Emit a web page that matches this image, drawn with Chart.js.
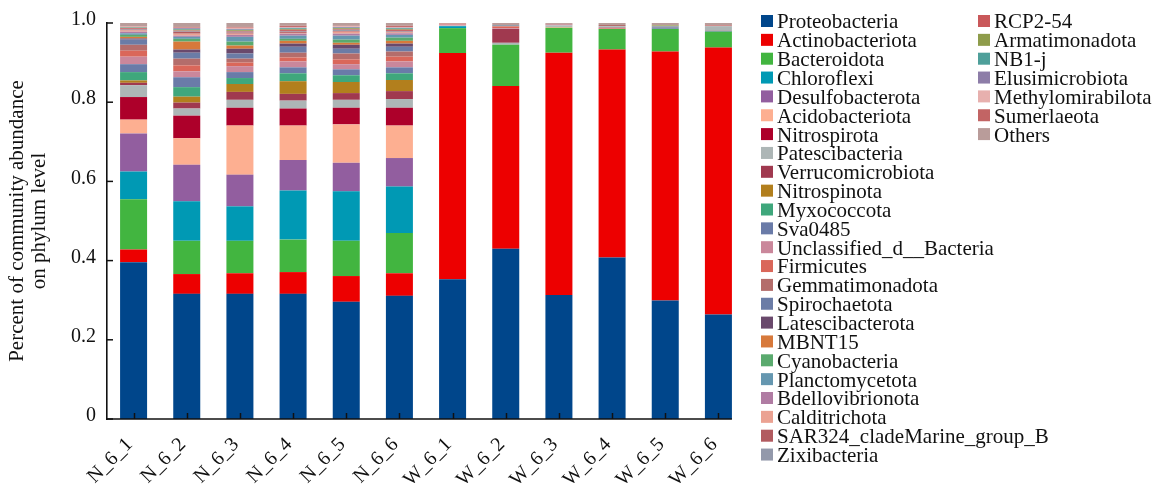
<!DOCTYPE html>
<html>
<head>
<meta charset="utf-8">
<script src="https://cdn.jsdelivr.net/npm/chart.js@4.4.1/dist/chart.umd.min.js"></script>
<style>
  html, body { margin: 0; padding: 0; background: #fff; }
  canvas { display: block; }
</style>
</head>
<body>
<canvas id="chart" width="1160" height="484"></canvas>
<script>
// Samples along the x axis
const samples = ['N_6_1', 'N_6_2', 'N_6_3', 'N_6_4', 'N_6_5', 'N_6_6',
                 'W_6_1', 'W_6_2', 'W_6_3', 'W_6_4', 'W_6_5', 'W_6_6'];

// Phyla, stacked bottom to top in this order
const phyla = ['Proteobacteria', 'Actinobacteriota', 'Bacteroidota', 'Chloroflexi',
  'Desulfobacterota', 'Acidobacteriota', 'Nitrospirota', 'Patescibacteria',
  'Verrucomicrobiota', 'Nitrospinota', 'Myxococcota', 'Sva0485',
  'Unclassified_d__Bacteria', 'Firmicutes', 'Gemmatimonadota', 'Spirochaetota',
  'Latescibacterota', 'MBNT15', 'Cyanobacteria', 'Planctomycetota',
  'Bdellovibrionota', 'Calditrichota', 'SAR324_cladeMarine_group_B', 'Zixibacteria',
  'RCP2-54', 'Armatimonadota', 'NB1-j', 'Elusimicrobiota',
  'Methylomirabilota', 'Sumerlaeota', 'Others'];

// Relative abundance per phylum (one value per sample, same order as samples)
const proteobacteria    = [0.396, 0.316, 0.316, 0.316, 0.296, 0.311, 0.353, 0.430, 0.313, 0.408, 0.299, 0.264];
const actinobacteriota  = [0.032, 0.050, 0.052, 0.055, 0.065, 0.057, 0.571, 0.411, 0.612, 0.525, 0.629, 0.674];
const bacteroidota      = [0.127, 0.084, 0.082, 0.082, 0.089, 0.102, 0.063, 0.104, 0.063, 0.052, 0.057, 0.040];
const chloroflexi       = [0.070, 0.100, 0.087, 0.124, 0.125, 0.117, 0.005, 0, 0, 0, 0, 0.001];
const desulfobacterota  = [0.096, 0.092, 0.080, 0.077, 0.072, 0.072, 0.001, 0, 0, 0, 0, 0];
const acidobacteriota   = [0.035, 0.067, 0.124, 0.087, 0.097, 0.082, 0.001, 0, 0.002, 0.001, 0, 0];
const nitrospirota      = [0.057, 0.057, 0.045, 0.043, 0.042, 0.045, 0, 0, 0, 0.002, 0, 0.001];
const patescibacteria   = [0.030, 0.018, 0.020, 0.020, 0.020, 0.022, 0.001, 0.005, 0.004, 0.004, 0, 0.012];
const verrucomicrobiota = [0.006, 0.015, 0.020, 0.017, 0.017, 0.020, 0, 0.035, 0, 0, 0, 0];
const nitrospinota      = [0.006, 0.015, 0.020, 0.032, 0.028, 0.028, 0, 0, 0, 0, 0, 0];
const myxococcota       = [0.021, 0.024, 0.015, 0.020, 0.017, 0.017, 0, 0, 0, 0, 0, 0];
const sva0485           = [0.020, 0.025, 0.015, 0.015, 0.015, 0.015, 0, 0, 0, 0, 0.002, 0];
const unclassifiedBact  = [0.019, 0.015, 0.015, 0.015, 0.013, 0.015, 0.001, 0.002, 0.002, 0, 0, 0];
const firmicutes        = [0.015, 0.015, 0.009, 0.010, 0.012, 0.012, 0.002, 0.004, 0, 0, 0, 0];
const gemmatimonadota   = [0.015, 0.017, 0.010, 0.012, 0.015, 0.013, 0.001, 0.002, 0.002, 0.003, 0, 0];
const spirochaetota     = [0.013, 0.015, 0.013, 0.015, 0.012, 0.012, 0, 0, 0, 0, 0, 0];
const latescibacterota  = [0.003, 0.008, 0.012, 0.008, 0.010, 0.008, 0, 0, 0, 0, 0, 0];
const mbnt15            = [0.004, 0.020, 0.008, 0.007, 0.005, 0.007, 0, 0, 0, 0, 0, 0];
const cyanobacteria     = [0.005, 0.007, 0.010, 0.005, 0.008, 0.008, 0, 0, 0, 0, 0, 0];
const planctomycetota   = [0.004, 0.005, 0.012, 0.008, 0.010, 0.007, 0, 0.002, 0, 0, 0, 0];
const bdellovibrionota  = [0.004, 0.003, 0.005, 0.005, 0.005, 0.004, 0, 0, 0, 0, 0, 0];
const calditrichota     = [0.003, 0.005, 0.003, 0.002, 0.005, 0.002, 0, 0, 0, 0, 0, 0];
const sar324            = [0.002, 0.005, 0.003, 0.003, 0.002, 0.002, 0, 0, 0, 0, 0, 0];
const zixibacteria      = [0.002, 0.002, 0.002, 0.002, 0.003, 0.002, 0, 0, 0, 0, 0.005, 0];
const rcp2_54           = [0.002, 0.001, 0.002, 0.003, 0.002, 0.003, 0, 0, 0, 0, 0, 0];
const armatimonadota    = [0.001, 0.002, 0.002, 0.002, 0.002, 0.002, 0, 0, 0, 0, 0.002, 0];
const nb1_j             = [0.001, 0.002, 0.001, 0.002, 0.001, 0.002, 0, 0, 0, 0, 0, 0];
const elusimicrobiota   = [0.001, 0.002, 0.002, 0.001, 0.002, 0.001, 0, 0, 0, 0, 0, 0];
const methylomirabilota = [0.001, 0.001, 0.003, 0.002, 0.002, 0.002, 0, 0, 0, 0, 0, 0];
const sumerlaeota       = [0.001, 0.002, 0.002, 0.003, 0.001, 0.003, 0, 0, 0, 0, 0, 0.002];
const others            = [0.008, 0.010, 0.010, 0.007, 0.007, 0.007, 0.001, 0.005, 0.002, 0.005, 0.006, 0.006];

const series = [proteobacteria, actinobacteriota, bacteroidota, chloroflexi,
  desulfobacterota, acidobacteriota, nitrospirota, patescibacteria,
  verrucomicrobiota, nitrospinota, myxococcota, sva0485,
  unclassifiedBact, firmicutes, gemmatimonadota, spirochaetota,
  latescibacterota, mbnt15, cyanobacteria, planctomycetota,
  bdellovibrionota, calditrichota, sar324, zixibacteria,
  rcp2_54, armatimonadota, nb1_j, elusimicrobiota,
  methylomirabilota, sumerlaeota, others];

// Y axis tick labels
const yTickLabels = ['0', '0.2', '0.4', '0.6', '0.8', '1.0'];

// Fill colour for each phylum
const colors = ['#00468B', '#ED0000', '#42B540', '#0099B4',
  '#925E9F', '#FDAF91', '#AD002A', '#ADB6B6',
  '#A0394F', '#B27F1D', '#3FA77C', '#6A7BA8',
  '#CA879B', '#DA675A', '#B46D6B', '#6B7CA6',
  '#6A496C', '#D7793B', '#5AAA6E', '#6597B0',
  '#B07CA3', '#EBA292', '#B25B60', '#9399AB',
  '#C9585A', '#8E9C4B', '#4E9F9A', '#8D7DA8',
  '#E7B0AE', '#C26464', '#B99C9A'];

const SERIF = "'Liberation Serif', 'Times New Roman', Times, serif";
const INK = '#111111';

// Axis lines, inward tick marks and the two-column legend
const decorations = {
  id: 'decorations',
  afterDatasetsDraw(chart) {
    const { ctx, chartArea, scales } = chart;
    const xs = scales.x, ys = scales.y;
    ctx.save();
    ctx.strokeStyle = INK;
    ctx.lineWidth = 1.6;
    // x axis baseline, running to the outer edge of the last bar
    const meta = chart.getDatasetMeta(0);
    const lastBar = meta.data[meta.data.length - 1];
    const xEnd = lastBar.x + lastBar.width / 2;
    ctx.beginPath();
    ctx.moveTo(chartArea.left - 0.8, chartArea.bottom);
    ctx.lineTo(xEnd, chartArea.bottom);
    ctx.stroke();
    // ticks pointing into the plot
    ctx.lineWidth = 1.5;
    xs.ticks.forEach((t, i) => {
      const px = Math.round(xs.getPixelForTick(i)) + 0.5;
      ctx.beginPath();
      ctx.moveTo(px, chartArea.bottom);
      ctx.lineTo(px, chartArea.bottom - 6);
      ctx.stroke();
    });
    ys.ticks.forEach((t, i) => {
      const py = ys.getPixelForTick(i);
      ctx.beginPath();
      ctx.moveTo(chartArea.left, py);
      ctx.lineTo(chartArea.left + 6, py);
      ctx.stroke();
    });
    ctx.restore();
  },
  afterDraw(chart) {
    const { ctx } = chart;
    const perColumn = 24;
    const colX = [761, 978];
    const top = 15, step = 18.85, box = 12;
    ctx.save();
    ctx.font = '21px ' + SERIF;
    ctx.textBaseline = 'alphabetic';
    ctx.textAlign = 'left';
    chart.data.datasets.forEach((ds, i) => {
      const col = i < perColumn ? 0 : 1;
      const row = i < perColumn ? i : i - perColumn;
      const bx = colX[col];
      const by = top + row * step;
      ctx.fillStyle = ds.backgroundColor;
      ctx.fillRect(bx, by, box, box);
      ctx.fillStyle = INK;
      ctx.fillText(ds.label, bx + 16, by + 13.4);
    });
    ctx.restore();
  }
};

new Chart(document.getElementById('chart'), {
  type: 'bar',
  data: {
    labels: samples,
    datasets: phyla.map((name, i) => ({
      label: name,
      data: series[i],
      backgroundColor: colors[i],
      borderWidth: 0,
      categoryPercentage: 1,
      barPercentage: 0.508
    }))
  },
  options: {
    responsive: false,
    animation: false,
    events: [],
    layout: { padding: { top: 17, right: 415, left: 0, bottom: 0 } },
    plugins: {
      legend: { display: false },
      tooltip: { enabled: false }
    },
    scales: {
      x: {
        stacked: true,
        offset: true,
        grid: { display: false, drawTicks: false },
        border: { display: false },
        ticks: {
          autoSkip: false,
          minRotation: 45,
          maxRotation: 45,
          padding: 14,
          labelOffset: -4,
          color: INK,
          font: { family: SERIF, size: 20 }
        },
        afterFit(scale) { scale.height = 65; }
      },
      y: {
        stacked: true,
        min: 0,
        max: 1,
        grid: { display: false, drawTicks: false },
        border: { display: true, color: INK, width: 1.6 },
        ticks: {
          stepSize: 0.2,
          padding: 11,
          labelOffset: -3,
          color: INK,
          font: { family: SERIF, size: 20 },
          callback: (value, index) => yTickLabels[index]
        },
        title: {
          display: true,
          text: ['Percent of community abundance', 'on phylum level'],
          color: INK,
          font: { family: SERIF, size: 21, lineHeight: 1.05 },
          padding: { top: 6, bottom: 0 }
        },
        afterFit(scale) { scale.width = 107; }
      }
    }
  },
  plugins: [decorations]
});
</script>
</body>
</html>
